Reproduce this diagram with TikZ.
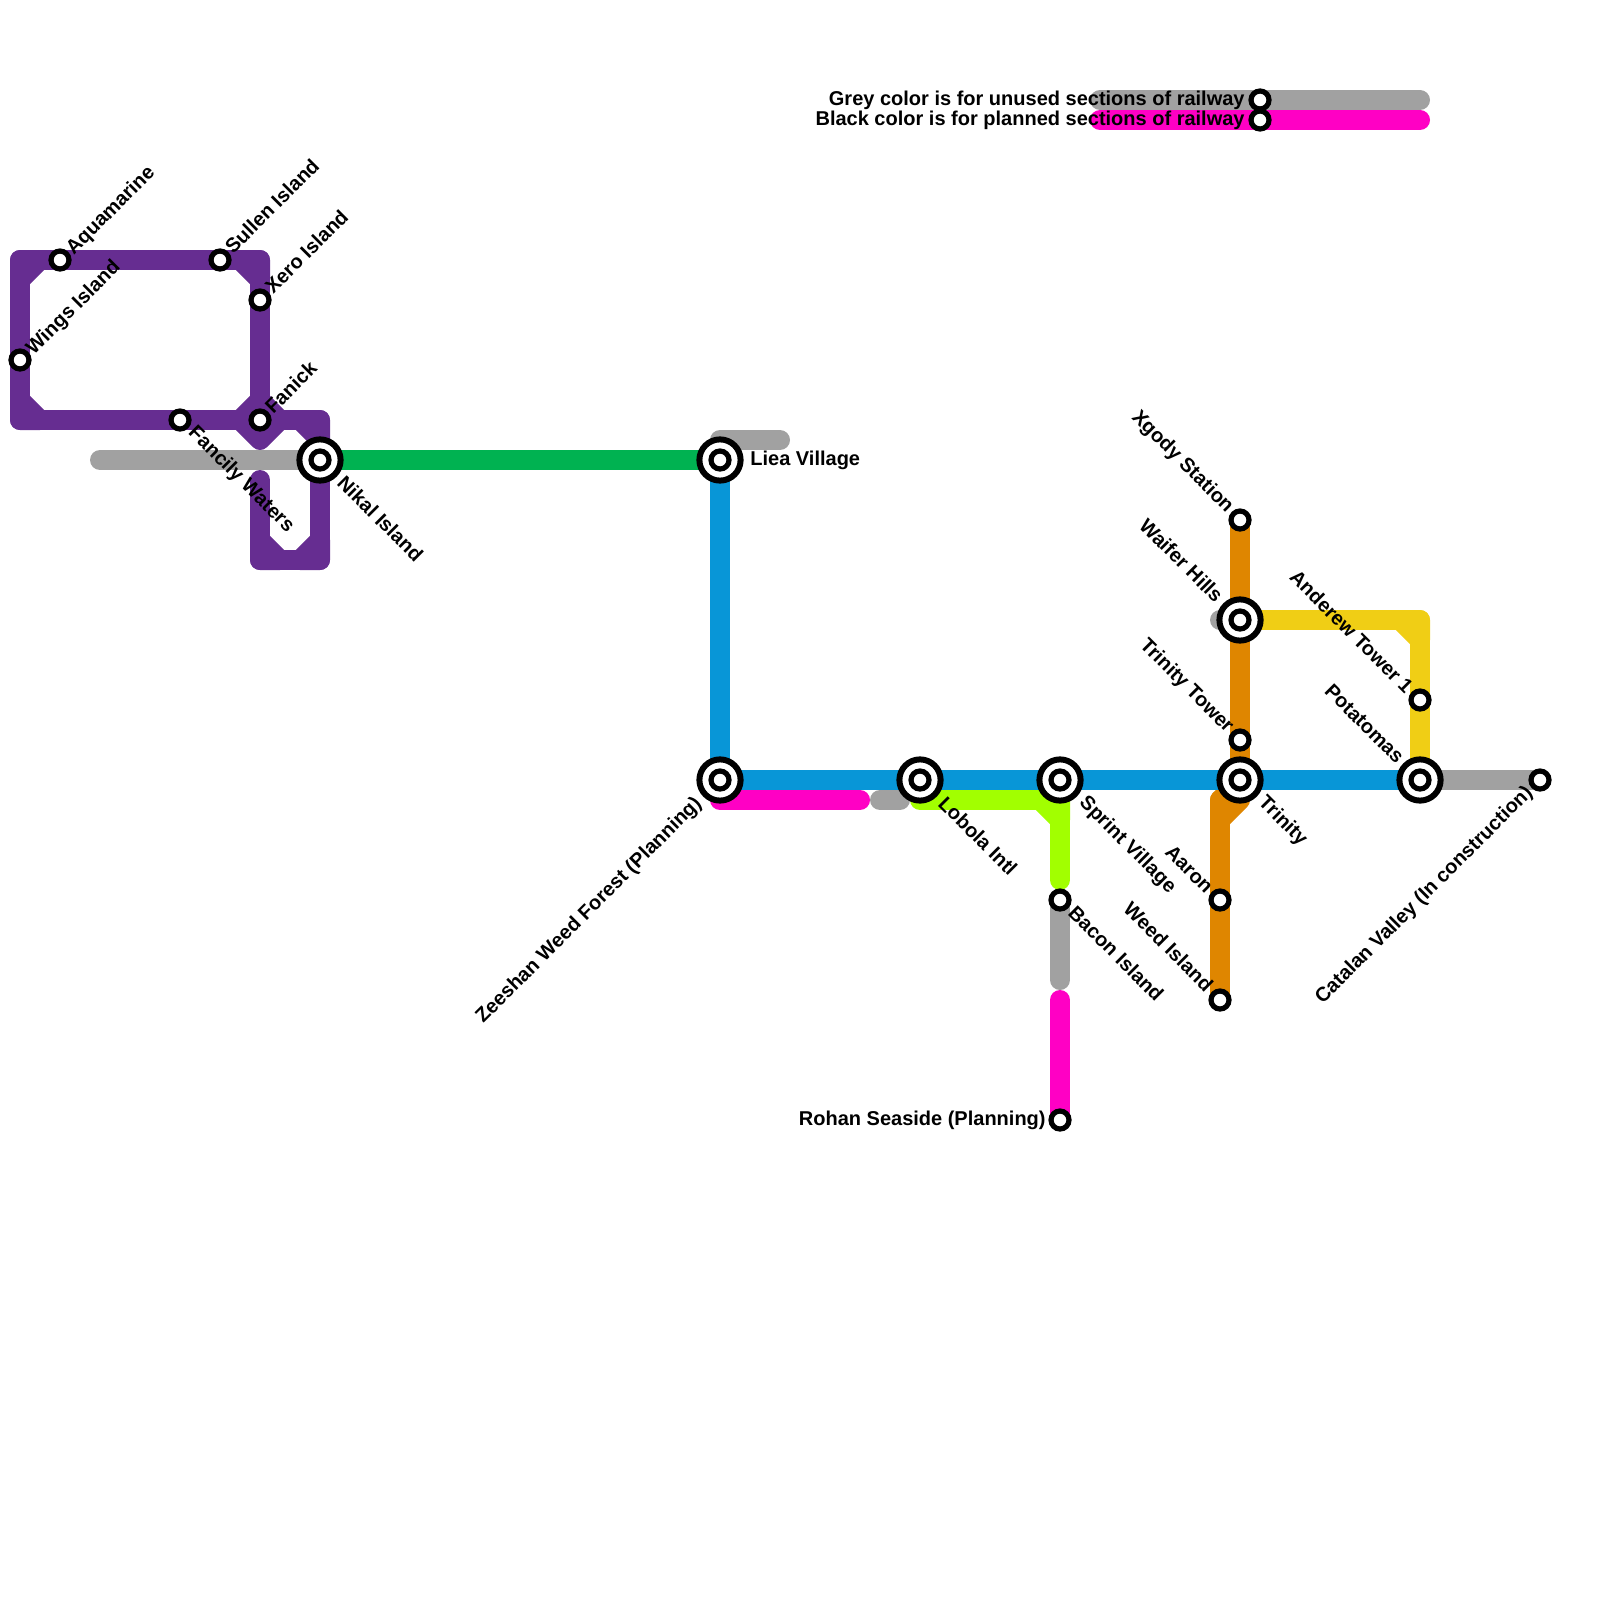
\documentclass[tikz,border=0pt]{standalone}
\usepackage{fontspec}
\setmainfont{Liberation Sans}
\pgfdeclarelayer{lines}
\pgfsetlayers{lines,main}
\definecolor{purpleline}{HTML}{662D91}
\definecolor{greenline}{HTML}{00B251}
\definecolor{blueline}{HTML}{0896D7}
\definecolor{greyline}{HTML}{A1A1A1}
\definecolor{pinkline}{HTML}{FF00C4}
\definecolor{limeline}{HTML}{A2FF00}
\definecolor{orangeline}{HTML}{DF8600}
\definecolor{yellowline}{HTML}{F0CE15}

\begin{document}
\begin{tikzpicture}[x=0.5pt,y=-0.5pt,
    stop/.style={circle,draw=black,fill=white,line width=2.6pt,minimum size=9pt,inner sep=0pt,outer sep=0pt},
    hub/.style={circle,draw=black,fill=white,line width=3pt,minimum size=20.6pt,inner sep=0pt,outer sep=0pt,
        path picture={\draw[line width=2.6pt] (path picture bounding box.center) circle (4.5pt);}},
    lbl/.style={font=\bfseries\fontsize{10}{12}\selectfont,inner sep=0pt},
    lblne/.style={lbl,rotate=45,anchor=west},
    lblse/.style={lbl,rotate=-45,anchor=west},
    lblnw/.style={lbl,rotate=-45,anchor=east},
    lblsw/.style={lbl,rotate=45,anchor=east},
    metro/.style={line width=10pt,line cap=round,line join=round}]
    \useasboundingbox (0,0) rectangle (1600,1600);

    % stations
    \begin{scope}[every node/.style={stop}]
        \node (aquamarine) at (60,260) {};
        \node (sullen) at (220,260) {};
        \node (xero) at (260,300) {};
        \node (wings) at (20,360) {};
        \node (fancily) at (180,420) {};
        \node (fanick) at (260,420) {};
        \node (xgody) at (1240,520) {};
        \node (tower) at (1240,740) {};
        \node (anderew) at (1420,700) {};
        \node (bacon) at (1060,900) {};
        \node (aaron) at (1220,900) {};
        \node (weed) at (1220,1000) {};
        \node (rohan) at (1060,1120) {};
        \node (catalan) at (1540,780) {};
        \node (unused) at (1260,100) {};
        \node (planned) at (1260,120) {};
    \end{scope}
    \begin{scope}[every node/.style={hub}]
        \node (nikal) at (320,460) {};
        \node (liea) at (720,460) {};
        \node (zeeshan) at (720,780) {};
        \node (lobola) at (920,780) {};
        \node (sprint) at (1060,780) {};
        \node (trinity) at (1240,780) {};
        \node (waifer) at (1240,620) {};
        \node (potatomas) at (1420,780) {};
    \end{scope}

    % bends and free ends
    \coordinate (tl) at (20,260);
    \coordinate (tr) at (260,260);
    \coordinate (bl) at (20,420);
    \coordinate (nb) at (320,420);
    \coordinate (ur) at (320,560);
    \coordinate (ul) at (260,560);
    \coordinate (ue) at (260,480);
    \coordinate (greyw) at (100,460);
    \coordinate (lieac) at (720,440);
    \coordinate (liead) at (780,440);
    \coordinate (pinkc) at (720,800);
    \coordinate (pinke) at (860,800);
    \coordinate (stubw) at (880,800);
    \coordinate (stube) at (900,800);
    \coordinate (limew) at (920,800);
    \coordinate (limec) at (1060,800);
    \coordinate (limee) at (1060,880);
    \coordinate (bacone) at (1060,980);
    \coordinate (rohane) at (1060,1000);
    \coordinate (orangea) at (1240,800);
    \coordinate (orangeb) at (1220,820);
    \coordinate (orangec) at (1220,800);
    \coordinate (waiferw) at (1220,620);
    \coordinate (yellowc) at (1420,620);
    \coordinate (unusedw) at (1100,100);
    \coordinate (unusede) at (1420,100);
    \coordinate (plannedw) at (1100,120);
    \coordinate (plannede) at (1420,120);

    \begin{pgfonlayer}{lines}
        \begin{scope}[every path/.style={metro,draw=purpleline}]
            \path (tl) -- (tr) -- (xero.center) -- (fanick.center) -- (fancily.center) -- (bl) -- cycle;
            \path (fanick.center) -- (nb) -- (nikal.center) -- (ur) -- (ul) -- (ue);
            \path (tl) -- ++(20,0) -- ++(-20,20) -- cycle;
            \path (tr) -- ++(-20,0) -- ++(20,20) -- cycle;
            \path (bl) -- ++(20,0) -- ++(-20,-20) -- cycle;
            \path (nb) -- ++(-20,0) -- ++(20,20) -- cycle;
            \path (ur) -- ++(-20,0) -- ++(20,-20) -- cycle;
            \path (ul) -- ++(20,0) -- ++(-20,-20) -- cycle;
            \path (fanick.center) ++(-20,0) -- ++(20,-20) -- ++(20,20) -- ++(-20,20) -- cycle;
        \end{scope}
        \begin{scope}[every path/.style={metro,draw=greyline}]
            \path (greyw) -- (nikal.center);
            \path (liea.center) -- (lieac) -- (liead);
            \path (stubw) -- (stube);
            \path (bacon.center) -- (bacone);
            \path (waiferw) -- (waifer.center);
            \path (potatomas.center) -- (catalan.center);
            \path (unusedw) -- (unusede);
        \end{scope}
        \begin{scope}[every path/.style={metro,draw=pinkline}]
            \path (zeeshan.center) -- (pinkc) -- (pinke);
            \path (rohane) -- (rohan.center);
            \path (plannedw) -- (plannede);
        \end{scope}
        \begin{scope}[every path/.style={metro,draw=limeline}]
            \path (lobola.center) -- (limew) -- (limec) -- (limee);
            \path (limec) -- ++(-20,0) -- ++(20,20) -- cycle;
            \path (sprint.center) -- (limec);
        \end{scope}
        \begin{scope}[every path/.style={metro,draw=orangeline}]
            \path (xgody.center) -- (trinity.center);
            \path (trinity.center) -- (orangea) -- (orangeb) -- (orangec) -- cycle;
            \path (orangec) -- (weed.center);
        \end{scope}
        \begin{scope}[every path/.style={metro,draw=yellowline}]
            \path (waifer.center) -- (yellowc) -- (potatomas.center);
            \path (yellowc) -- ++(-20,0) -- ++(20,20) -- cycle;
        \end{scope}
        \draw[metro,draw=greenline] (nikal.center) -- (liea.center);
        \draw[metro,draw=blueline] (liea.center) -- (zeeshan.center) -- (potatomas.center);
    \end{pgfonlayer}

    % labels
    \node[lblne] (aquamarinelbl) at (70,252) {Aquamarine};
    \node[lblne] (sullenlbl) at (228,250) {Sullen Island};
    \node[lblne] (xerolbl) at (268,290) {Xero Island};
    \node[lblne] (wingslbl) at (30,352) {Wings Island};
    \node[lblne] (fanicklbl) at (268,410) {Fanick};
    \node[lblse] (fancilylbl) at (191,430) {Fancily Waters};
    \node[lblse] (nikallbl) at (341,479) {Nikal Island};
    \node[lblse] (lobolalbl) at (942,800) {Lobola Intl};
    \node[lblse] (sprintlbl) at (1082,800) {Sprint Village};
    \node[lblse] (trinitylbl) at (1261,800) {Trinity};
    \node[lblse] (baconlbl) at (1072,909) {Bacon Island};
    \node[lblnw] (xgodylbl) at (1230,510) {Xgody Station};
    \node[lblnw] (waiferlbl) at (1220,599) {Waifer Hills};
    \node[lblnw] (towerlbl) at (1230,730) {Trinity Tower};
    \node[lblnw] (andrewlbl) at (1410,690) {Anderew Tower 1};
    \node[lblnw] (potatomaslbl) at (1401,760) {Potatomas};
    \node[lblnw] (aaronlbl) at (1210,890) {Aaron};
    \node[lblnw] (weedlbl) at (1210,988) {Weed Island};
    \node[lblsw] (zeeshanlbl) at (699,801) {Zeeshan Weed Forest (Planning)};
    \node[lblsw] (catalanlbl) at (1530,790) {Catalan Valley (In construction)};
    \node[lbl,anchor=west] (liealbl) at (750,460) {Liea Village};
    \node[lbl,anchor=east] (rohanlbl) at (1046,1120) {Rohan Seaside (Planning)};
    \node[lbl,anchor=east] (unusedlbl) at (1245,100) {Grey color is for unused sections of railway};
    \node[lbl,anchor=east] (plannedlbl) at (1245,120) {Black color is for planned sections of railway};
\end{tikzpicture}
\end{document}
